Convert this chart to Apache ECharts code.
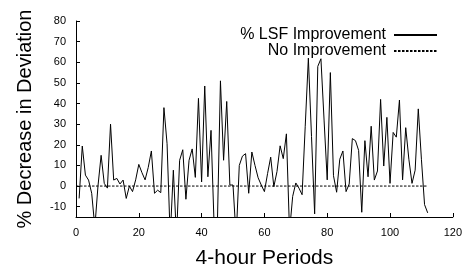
<!DOCTYPE html>
<html>
<head>
<meta charset="utf-8">
<script src="https://cdn.jsdelivr.net/npm/echarts@6/dist/echarts.min.js"></script>
<style>
    html, body { margin: 0; padding: 0; background: #fff; }
    #chart { width: 465px; height: 274px; }
</style>
</head>
<body>
<div id="chart"></div>
<script>
// % decrease in deviation per 4-hour period (periods 1..112)
const lsfValues = [
    -6, 19.4, 5.3, 2.9, -3.5, -20, 0, 14.9, 1.3, -1,
    30, 2.9, 3.7, 1, 2.9, -6, 0, -2.7, 3, 10.5,
    6.5, 3, 9, 17, -3.5, -2, -3.2, 38, 20.5, -25,
    7.7, -25, 12.5, 17.6, -6.4, 12.5, 18, 4.2, 42.5, 2,
    48.5, 4.5, 27, -20, -20, 51, 12.5, 41, 0.5, 0.5,
    -25, 10, 14.5, 15.7, -3.5, 16.5, 10, 4, 0.5, -2.7,
    6, 14, -0.3, 7, 19.5, 13.3, 25.3, -22, -5, 1.5,
    -1, -4.2, 29, 62, 24, -13.5, 58, 61.7, 32, 3,
    55, 5, -3, 13, 17, -2.7, 1, 23, 22, 17.3,
    -12.7, 22, 4.5, 29, 2.9, 7.3, 42, 9.7, 33.3, 1.3,
    26, 23.7, 41.7, 3, 28.3, 13, 1.3, 7.7, 37.4, 13,
    -9, -13
];
const firstPeriod = 1;
// baseline "no improvement"
const baseX = [0, 112];
const baseY = [0, 0];
const yTicks = [-10, 0, 10, 20, 30, 40, 50, 60, 70, 80];

const font = "Liberation Sans, Arial, Helvetica, sans-serif";

let chart = echarts.init(document.getElementById("chart"), null, { renderer: "canvas" });

let lsfData = lsfValues.map((v, i) => [firstPeriod + i, v]);
let baseData = baseX.map((x, i) => [x, baseY[i]]);

let option = {
    animation: false,
    textStyle: { fontFamily: font, color: "#000" },
    grid: {
        left: 76,
        right: 7,
        top: 21,
        bottom: 55,
    },
    legend: {
        orient: "vertical",
        right: 22,
        top: 22,
        align: "right",
        itemWidth: 43,
        itemHeight: 10,
        itemGap: 0,
        itemStyle: { opacity: 0 },
        textStyle: {
            fontFamily: font,
            fontSize: 16,
            color: "#000",
            padding: [0, 3, 0, 0],
        },
        data: ["% LSF Improvement", "No Improvement"],
    },
    xAxis: {
        type: "value",
        min: 0,
        max: 120,
        interval: 20,
        name: "4-hour Periods",
        nameLocation: "middle",
        nameGap: 31,
        nameTextStyle: { fontFamily: font, fontSize: 21, color: "#000" },
        axisLine: { onZero: false, lineStyle: { color: "#000", width: 1 } },
        axisTick: { inside: true, length: 4, lineStyle: { color: "#000" } },
        axisLabel: { fontFamily: font, fontSize: 11, color: "#000", margin: 10 },
        splitLine: { show: false },
    },
    yAxis: {
        type: "value",
        min: -15,
        max: 80,
        name: "% Decrease in Deviation",
        nameLocation: "middle",
        nameRotate: 90,
        nameGap: 41,
        nameTextStyle: { fontFamily: font, fontSize: 20, color: "#000" },
        axisLine: { show: true, onZero: false, lineStyle: { color: "#000", width: 1 } },
        axisTick: {
            show: true,
            inside: true,
            length: 4,
            customValues: yTicks,
            lineStyle: { color: "#000" },
        },
        axisLabel: {
            fontFamily: font,
            fontSize: 11,
            color: "#000",
            margin: 10,
            customValues: yTicks,
        },
        splitLine: { show: false },
    },
    series: [
        {
            name: "% LSF Improvement",
            type: "line",
            data: lsfData,
            symbol: "none",
            clip: true,
            lineStyle: { color: "#000", width: 1 },
            itemStyle: { color: "#000" },
        },
        {
            name: "No Improvement",
            type: "line",
            data: baseData,
            symbol: "none",
            clip: true,
            lineStyle: { color: "#000", width: 1, type: [2.5, 1.5] },
            itemStyle: { color: "#000" },
        },
    ],
};

chart.setOption(option);
</script>
</body>
</html>
